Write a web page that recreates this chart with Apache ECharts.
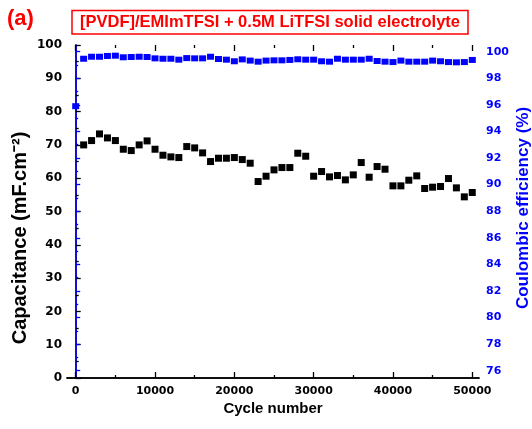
<!DOCTYPE html>
<html>
<head>
<meta charset="utf-8">
<script src="https://cdn.jsdelivr.net/npm/echarts@6/dist/echarts.min.js"></script>
<style>html,body{margin:0;padding:0;background:#fff;}#c{width:532px;height:429px;}</style>
</head>
<body>
<div id="c"></div>
<script>
const panelLabel = '(a)';
const titleText = '[PVDF]/EMImTFSI + 0.5M LiTFSI solid electrolyte';
const xName = 'Cycle number';
const yLeftName = 'Capacitance (mF.cm\u207B\u00B2)';
const yRightName = 'Coulombic efficiency (%)';

const capCycles = [1000,2000,3000,4000,5000,6000,7000,8000,9000,10000,
  11000,12000,13000,14000,15000,16000,17000,18000,19000,20000,
  21000,22000,23000,24000,25000,26000,27000,28000,29000,30000,
  31000,32000,33000,34000,35000,36000,37000,38000,39000,40000,
  41000,42000,43000,44000,45000,46000,47000,48000,49000,50000];
const capacitance = [70.0,71.3,73.3,72.1,71.3,68.7,68.3,70.0,71.2,68.7,
  66.9,66.4,66.2,69.5,69.1,67.6,65.0,66.0,66.0,66.2,
  65.6,64.5,59.0,60.6,62.5,63.2,63.2,67.5,66.6,60.6,
  62.0,60.4,60.8,59.5,61.0,64.7,60.3,63.5,62.7,57.7,
  57.7,59.4,60.7,56.9,57.3,57.5,59.9,57.1,54.4,55.7];

const ceCycles = [0,1000,2000,3000,4000,5000,6000,7000,8000,9000,10000,
  11000,12000,13000,14000,15000,16000,17000,18000,19000,20000,
  21000,22000,23000,24000,25000,26000,27000,28000,29000,30000,
  31000,32000,33000,34000,35000,36000,37000,38000,39000,40000,
  41000,42000,43000,44000,45000,46000,47000,48000,49000,50000];
const coulombic = [95.9,99.47,99.62,99.62,99.68,99.70,99.58,99.60,99.62,99.60,99.50,
  99.47,99.47,99.40,99.52,99.50,99.50,99.62,99.45,99.40,99.28,
  99.42,99.33,99.25,99.33,99.35,99.35,99.38,99.43,99.40,99.40,
  99.28,99.25,99.47,99.40,99.40,99.40,99.47,99.30,99.25,99.22,
  99.33,99.25,99.25,99.25,99.33,99.28,99.22,99.20,99.22,99.38];

const xTicks = {min: 0, max: 50000, interval: 10000};
const yLeftTicks = {min: 0, max: 100, interval: 10};
const yRightTicks = {min: 76, max: 100, interval: 2};

const BLUE = '#0000FF';
const RED = '#FF0000';
const FONT = 'DejaVu Sans';

const chart = echarts.init(document.getElementById('c'), null, {renderer: 'canvas'});

const hidden = {axisTick: {show: false}, axisLabel: {show: false}, splitLine: {show: false}};

chart.setOption({
  animation: false,
  backgroundColor: '#fff',
  grid: [
    {left: 67, right: 53, top: 45, bottom: 51},
    {left: 75.7, right: 59.7, top: 51.7, bottom: 58.3}
  ],
  xAxis: [
    Object.assign({type: 'value', gridIndex: 0, position: 'bottom', min: -1100, max: 50850,
      axisLine: {show: true, lineStyle: {color: '#000', width: 1.5}}}, hidden),
    Object.assign({type: 'value', gridIndex: 0, position: 'top', min: -1100, max: 50850,
      axisLine: {show: true, lineStyle: {color: '#000', width: 1.5}}}, hidden),
    {type: 'value', gridIndex: 1, position: 'bottom', offset: 7.3,
      min: xTicks.min, max: xTicks.max, interval: xTicks.interval,
      axisLine: {show: false},
      axisTick: {show: true, inside: true, length: 6, lineStyle: {color: '#000', width: 1.3}},
      minorTick: {show: true, splitNumber: 2, length: 3, lineStyle: {color: '#000', width: 1.3}},
      axisLabel: {show: true, margin: 8, color: '#000', fontFamily: FONT, fontWeight: 'bold', fontSize: 11,
        formatter: v => String(v)},
      splitLine: {show: false}},
    {type: 'value', gridIndex: 1, position: 'top', offset: 6.7,
      min: xTicks.min, max: xTicks.max, interval: xTicks.interval,
      axisLine: {show: false},
      axisTick: {show: true, inside: true, length: 6, lineStyle: {color: '#000', width: 1.3}},
      minorTick: {show: true, splitNumber: 2, length: 3, lineStyle: {color: '#000', width: 1.3}},
      axisLabel: {show: false}, splitLine: {show: false}}
  ],
  yAxis: [
    {type: 'value', gridIndex: 0, position: 'left',
      min: yLeftTicks.min, max: yLeftTicks.max, interval: yLeftTicks.interval,
      axisLine: {show: true, lineStyle: {color: '#000', width: 1.5}},
      axisTick: {show: true, inside: true, length: 5, lineStyle: {color: '#000', width: 1.3}},
      minorTick: {show: true, splitNumber: 2, length: 3, lineStyle: {color: '#000', width: 1.3}},
      axisLabel: {show: true, margin: 5, color: '#000', fontFamily: FONT, fontWeight: 'bold', fontSize: 12},
      splitLine: {show: false}},
    Object.assign({type: 'value', gridIndex: 0, position: 'right', min: 0, max: 1,
      axisLine: {show: true, lineStyle: {color: BLUE, width: 1.5}}}, hidden),
    {type: 'value', gridIndex: 1, position: 'right', offset: 6.7,
      min: yRightTicks.min, max: yRightTicks.max, interval: yRightTicks.interval,
      axisLine: {show: false},
      axisTick: {show: true, inside: false, length: 4.5, lineStyle: {color: BLUE, width: 1.3}},
      minorTick: {show: true, splitNumber: 2, length: 2.5, lineStyle: {color: BLUE, width: 1.3}},
      axisLabel: {show: true, margin: 7, color: BLUE, fontFamily: FONT, fontWeight: 'bold', fontSize: 11},
      splitLine: {show: false}}
  ],
  series: [
    {type: 'scatter', name: 'Capacitance', xAxisIndex: 0, yAxisIndex: 0, clip: false,
      symbol: 'rect', symbolSize: [7, 7], itemStyle: {color: '#000', opacity: 1},
      data: capCycles.map((c, i) => [c, capacitance[i]])},
    {type: 'scatter', name: 'Coulombic efficiency', xAxisIndex: 2, yAxisIndex: 2, clip: false,
      symbol: 'rect', symbolSize: [7, 6], itemStyle: {color: BLUE, opacity: 1},
      data: ceCycles.map((c, i) => [c, coulombic[i]])}
  ],
  graphic: [
    {type: 'text', left: 7, top: 8, style: {text: panelLabel, fill: RED,
      font: 'bold 22px "Liberation Sans"'}},
    {type: 'rect', shape: {x: 72, y: 10.5, width: 396, height: 23.5},
      style: {fill: 'none', stroke: RED, lineWidth: 1.5}},
    {type: 'text', x: 270, y: 22.5, style: {text: titleText, fill: RED,
      font: 'bold 16.5px "Liberation Sans"', textAlign: 'center', textVerticalAlign: 'middle'}},
    {type: 'text', x: 273, y: 409, style: {text: xName, fill: '#000',
      font: 'bold 15px "Liberation Sans"', textAlign: 'center', textVerticalAlign: 'middle'}},
    {type: 'text', x: 20, y: 238, rotation: Math.PI / 2, style: {text: yLeftName, fill: '#000',
      font: 'bold 20px "Liberation Sans"', textAlign: 'center', textVerticalAlign: 'middle'}},
    {type: 'text', x: 523, y: 208, rotation: Math.PI / 2, style: {text: yRightName, fill: BLUE,
      font: 'bold 17px "Liberation Sans"', textAlign: 'center', textVerticalAlign: 'middle'}}
  ]
});
</script>
</body>
</html>
